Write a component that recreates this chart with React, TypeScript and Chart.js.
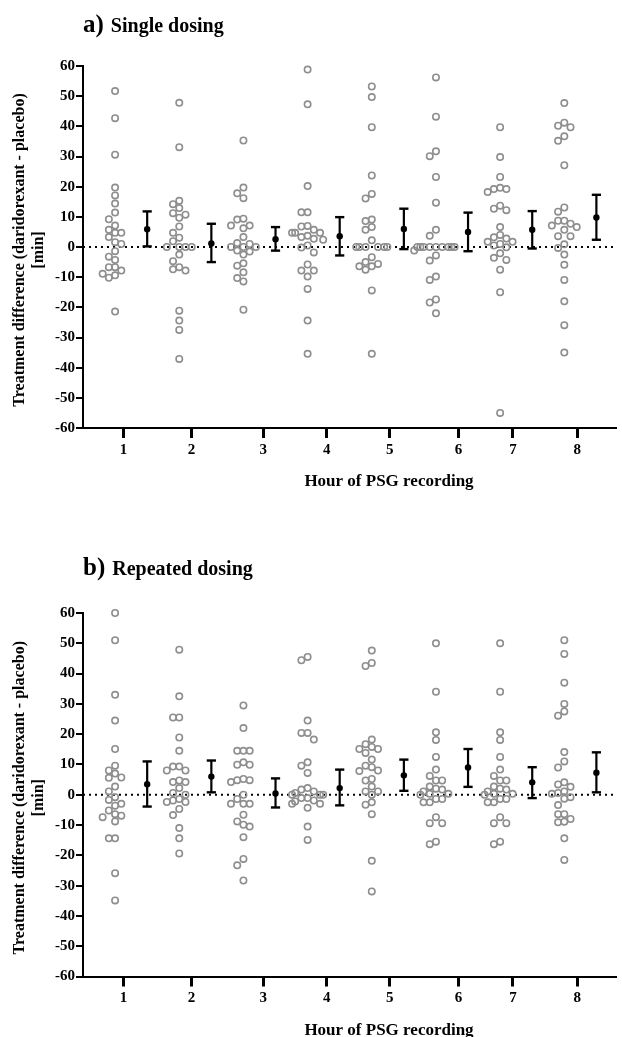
import React, { useEffect, useRef } from 'react';
import { Chart, registerables } from 'chart.js';

Chart.register(...registerables);

// ---------- data ----------
const hours = [1, 2, 3, 4, 5, 6, 7, 8];
const hourLabels = ['1', '2', '3', '4', '5', '6', '7', '8'];
// where the original figure put its hour labels (in hour units)
const xTickPositions = [1.13, 2.19, 3.31, 4.3, 5.28, 6.35, 7.2, 8.2];

const panelLetters = ['a)', 'b)'];
const panelTitles = ['Single dosing', 'Repeated dosing'];
const yTitleLines = ['Treatment difference (daridorexant - placebo)', '[min]'];
const xTitle = 'Hour of PSG recording';

// a) Single dosing: individual treatment differences (min)
const singleH1 = [51.7, 42.7, 30.6, 19.7, 17.1, 14.4, 11.4, 9.2, 7.1, 5.7, 4.7, 4.7, 3.3, 1.6, 1.0, -1.4, -3.2, -4.3, -6.7, -6.7, -7.8, -8.9, -9.4, -10.2, -21.4];
const singleH2 = [47.8, 33.1, 15.3, 14.2, 12.9, 11.2, 10.7, 9.7, 6.8, 4.7, 3.1, 1.9, 0, 0, 0, 0, -2.5, -4.7, -6.7, -7.4, -7.8, -21.1, -24.4, -27.5, -37.1];
const singleH3 = [35.3, 19.7, 17.8, 16.2, 9.4, 9.1, 7.1, 7.1, 6.2, 3.3, 1.3, 1.0, 0, 0, 0, -1.2, -1.5, -2.5, -5.4, -6.2, -8.4, -10.3, -11.4, -20.8];
const singleH4 = [58.8, 47.3, 20.2, 11.5, 11.5, 7.0, 6.8, 5.7, 4.7, 4.7, 4.7, 3.7, 3.3, 2.7, 2.4, 0.5, -0.2, -1.8, -5.8, -7.8, -7.8, -9.8, -13.9, -24.4, -35.4];
const singleH5 = [53.2, 49.7, 39.7, 23.7, 17.6, 16.1, 9.1, 8.6, 6.6, 5.7, 2.2, 0, 0, 0, 0, 0, 0, -3.4, -5.0, -5.6, -6.4, -6.4, -7.5, -14.4, -35.4];
const singleH6 = [56.2, 43.2, 31.7, 30.1, 23.2, 14.7, 5.7, 3.7, 0, 0, 0, 0, 0, 0, 0, 0, 0, -1.2, -2.8, -4.5, -9.8, -10.9, -17.4, -18.4, -22.0];
const singleH7 = [39.7, 29.8, 23.2, 19.6, 19.2, 19.2, 18.2, 13.7, 12.7, 12.2, 6.6, 4.0, 3.2, 2.8, 1.7, 1.7, 1.0, 0.5, -0.1, -2.1, -3.6, -4.3, -7.5, -15.0, -55.0];
const singleH8 = [47.7, 41.2, 40.2, 39.7, 36.7, 35.2, 27.1, 13.1, 11.7, 8.7, 8.7, 7.7, 7.1, 6.6, 5.7, 3.6, 3.6, 0.9, -0.3, -2.5, -5.9, -10.9, -18.0, -25.9, -35.0];
const singleMean = [5.9, 1.2, 2.6, 3.6, 6.0, 5.0, 5.7, 9.8];
const singleLow = [0.2, -5.0, -1.2, -2.8, -0.7, -1.4, -0.5, 2.4];
const singleHigh = [11.8, 7.7, 6.6, 9.9, 12.7, 11.4, 11.9, 17.3];

// b) Repeated dosing
const repeatedH1 = [60.0, 51.0, 33.0, 24.5, 15.1, 9.6, 8.0, 7.0, 5.7, 5.6, 2.7, 1.1, -0.8, -1.7, -3.0, -3.6, -5.2, -6.4, -6.9, -7.4, -8.8, -14.4, -14.4, -25.9, -34.9];
const repeatedH2 = [47.9, 32.5, 25.5, 25.5, 18.9, 14.5, 9.3, 9.3, 8.0, 8.0, 4.7, 4.2, 4.2, 2.2, 0.6, 0, -1.4, -1.9, -2.4, -2.4, -4.7, -6.7, -11.0, -14.4, -19.4];
const repeatedH3 = [29.5, 22.0, 14.5, 14.5, 14.5, 10.7, 9.9, 9.9, 5.2, 4.8, 4.8, 4.2, 0, -1.4, -3.0, -3.0, -3.0, -6.6, -8.8, -9.9, -10.5, -14.0, -21.2, -23.3, -28.3];
const repeatedH4 = [45.5, 44.4, 24.5, 20.4, 20.4, 18.2, 10.7, 9.6, 7.2, 2.2, 1.7, 1.1, 0.6, 0, 0, 0, -1.1, -1.1, -1.9, -2.2, -3.0, -3.0, -4.3, -10.5, -14.9];
const repeatedH5 = [47.6, 43.5, 42.5, 18.2, 16.7, 15.8, 15.1, 15.1, 13.8, 11.6, 9.6, 9.1, 8.0, 7.8, 5.2, 4.7, 2.7, 1.1, 1.1, 0, -2.5, -3.3, -6.4, -21.8, -31.9];
const repeatedH6 = [50.0, 34.0, 20.6, 18.1, 12.5, 8.3, 6.2, 4.7, 4.7, 2.7, 2.0, 1.7, 1.1, 0.3, 0.3, 0, -1.4, -1.4, -2.5, -2.5, -7.4, -9.4, -9.4, -15.5, -16.3];
const repeatedH7 = [50.0, 34.0, 20.6, 18.1, 12.5, 8.3, 6.2, 4.7, 4.7, 2.7, 2.0, 1.7, 1.1, 0.3, 0.3, 0, -1.4, -1.4, -2.5, -2.5, -7.4, -9.4, -9.4, -15.5, -16.3];
const repeatedH8 = [51.0, 46.5, 37.0, 30.0, 27.5, 26.1, 14.1, 11.0, 9.0, 4.1, 3.4, 2.6, 1.1, 0.6, 0.3, -0.8, -1.3, -3.4, -6.4, -6.4, -8.0, -8.9, -9.1, -14.4, -21.5];
const repeatedMean = [3.5, 6.0, 0.4, 2.2, 6.4, 9.0, 4.1, 7.3];
const repeatedLow = [-3.9, 0.8, -4.2, -3.5, 1.3, 2.6, -1.1, 0.8];
const repeatedHigh = [11.0, 11.3, 5.4, 8.3, 11.6, 15.1, 9.1, 14.0];

const singleByHour = [singleH1, singleH2, singleH3, singleH4, singleH5, singleH6, singleH7, singleH8];
const repeatedByHour = [repeatedH1, repeatedH2, repeatedH3, repeatedH4, repeatedH5, repeatedH6, repeatedH7, repeatedH8];

// ---------- layout ----------
const W = 622;
const X_MIN = 0.5;
const X_MAX = 8.79;
const Y_MIN = -60;
const Y_MAX = 60;
const AXIS_LEFT = 83;
const FONT = "'Liberation Serif', 'Times New Roman', serif";

type PanelCfg = {
  top: number;
  height: number;
  plotTop: number;
  plotHeight: number;
  titleBaseline: number;
  letter: string;
  title: string;
  byHour: number[][];
  mean: number[];
  low: number[];
  high: number[];
};

const panels: PanelCfg[] = [
  { top: 0, height: 500, plotTop: 66, plotHeight: 362, titleBaseline: 32, letter: panelLetters[0], title: panelTitles[0], byHour: singleByHour, mean: singleMean, low: singleLow, high: singleHigh },
  { top: 547, height: 490, plotTop: 66, plotHeight: 363.5, titleBaseline: 28, letter: panelLetters[1], title: panelTitles[1], byHour: repeatedByHour, mean: repeatedMean, low: repeatedLow, high: repeatedHigh },
];

// beeswarm: horizontal offsets (in x units) computed from the values only.
// Points sharing a lane keep a vertical gap; outer lanes are compressed.
function swarmOffsets(values: number[], xPxPerUnit: number, yPxPerUnit: number): number[] {
  const LANE = 6.3;
  const V_GAP = 7.2;
  const lanePx = (lane: number) => {
    const n = Math.abs(lane);
    const d = n <= 2 ? n * LANE : 2 * LANE + (n - 2) * LANE * 0.5;
    return Math.sign(lane) * d;
  };
  const order = values.map((_, i) => i).sort((a, b) => values[b] - values[a]);
  const placed: { lane: number; y: number }[] = [];
  const out = new Array(values.length).fill(0);
  for (const i of order) {
    const y = values[i] * yPxPerUnit;
    for (let k = 0; k < 60; k++) {
      const lane = k === 0 ? 0 : k % 2 === 1 ? -(k + 1) / 2 : k / 2;
      const ok = placed.every((p) => p.lane !== lane || Math.abs(p.y - y) >= V_GAP);
      if (ok) {
        placed.push({ lane, y });
        out[i] = lanePx(lane) / xPxPerUnit;
        break;
      }
    }
  }
  return out;
}

const textPlugin = {
  id: 'panelText',
  afterDraw(chart: any, _args: any, opts: any) {
    const { ctx, chartArea } = chart;
    ctx.save();
    ctx.fillStyle = '#000';
    ctx.textAlign = 'left';
    ctx.textBaseline = 'alphabetic';
    ctx.font = `bold 25px ${FONT}`;
    ctx.fillText(opts.letter, AXIS_LEFT, opts.titleBaseline);
    const w = ctx.measureText(opts.letter).width;
    ctx.font = `bold 20px ${FONT}`;
    ctx.fillText(opts.title, AXIS_LEFT + w + 7, opts.titleBaseline);

    ctx.textAlign = 'center';
    ctx.textBaseline = 'middle';
    ctx.font = `bold 17px ${FONT}`;
    ctx.fillText(xTitle, 389, chartArea.bottom + 54);

    ctx.translate(20, (chartArea.top + chartArea.bottom) / 2 + 3);
    ctx.rotate(-Math.PI / 2);
    ctx.font = `bold 16px ${FONT}`;
    ctx.fillText(yTitleLines[0], 0, 0);
    ctx.fillText(yTitleLines[1], 0, 19);
    ctx.restore();
  },
};

function Panel({ cfg }: { cfg: PanelCfg }) {
  const ref = useRef<HTMLCanvasElement>(null);
  useEffect(() => {
    const xPx = (W - AXIS_LEFT) / (X_MAX - X_MIN);
    const yPx = cfg.plotHeight / (Y_MAX - Y_MIN);
    const points: { x: number; y: number }[] = [];
    hours.forEach((h, hi) => {
      const vals = cfg.byHour[hi];
      const offs = swarmOffsets(vals, xPx, yPx);
      vals.forEach((v, i) => points.push({ x: h + offs[i], y: v }));
    });
    const errorSets = hours.map((h, i) => ({
      data: [
        { x: h + 0.5, y: cfg.low[i] },
        { x: h + 0.5, y: cfg.high[i] },
      ],
      showLine: true,
      borderColor: '#000',
      borderWidth: 2.2,
      pointStyle: 'line' as const,
      pointRadius: 4.6,
      pointBorderWidth: 2.4,
      pointBorderColor: '#000',
      pointBackgroundColor: '#000',
      clip: false,
      order: 1,
    }));
    const datasets: any[] = [
      {
        data: hours.map((h, i) => ({ x: h + 0.5, y: cfg.mean[i] })),
        pointRadius: 3.2,
        pointBackgroundColor: '#000',
        pointBorderColor: '#000',
        pointBorderWidth: 0,
        clip: false,
        order: 0,
      },
      ...errorSets,
      {
        data: points,
        pointRadius: 3.2,
        pointBorderWidth: 1.6,
        pointBorderColor: '#8e8e8e',
        pointBackgroundColor: 'rgba(0,0,0,0)',
        clip: false,
        order: 2,
      },
      {
        data: [
          { x: X_MIN, y: 0 },
          { x: X_MAX, y: 0 },
        ],
        showLine: true,
        borderColor: '#000',
        borderWidth: 2,
        borderDash: [2, 4],
        pointRadius: 0,
        order: 5,
      },
    ];
    const chart = new Chart(ref.current!, {
      type: 'scatter',
      data: { datasets },
      plugins: [textPlugin],
      options: {
        animation: false,
        responsive: false,
        events: [],
        layout: { padding: { top: cfg.plotTop, left: 0, right: 0, bottom: 0 } },
        plugins: {
          legend: { display: false },
          tooltip: { enabled: false },
          panelText: { letter: cfg.letter, title: cfg.title, titleBaseline: cfg.titleBaseline },
        } as any,
        scales: {
          x: {
            type: 'linear',
            min: X_MIN,
            max: X_MAX,
            afterBuildTicks: (s: any) => {
              s.ticks = xTickPositions.map((v) => ({ value: v }));
            },
            afterFit: (s: any) => {
              s.height = cfg.height - cfg.plotTop - cfg.plotHeight;
            },
            ticks: {
              autoSkip: false,
              maxRotation: 0,
              color: '#000',
              padding: 3,
              font: { family: FONT, weight: 'bold', size: 15 },
              callback: (_v: any, i: number) => hourLabels[i],
            },
            grid: { drawOnChartArea: false, drawTicks: true, tickLength: 10, lineWidth: 3, color: '#000' },
            border: { display: true, color: '#000', width: 2 },
          },
          y: {
            type: 'linear',
            min: Y_MIN,
            max: Y_MAX,
            afterFit: (s: any) => {
              s.width = AXIS_LEFT;
            },
            ticks: {
              stepSize: 10,
              color: '#000',
              padding: 1,
              font: { family: FONT, weight: 'bold', size: 15 },
            },
            grid: { drawOnChartArea: false, drawTicks: true, tickLength: 7, lineWidth: 2, color: '#000' },
            border: { display: true, color: '#000', width: 2 },
          },
        },
      } as any,
    });
    return () => chart.destroy();
  }, [cfg]);
  return (
    <canvas
      ref={ref}
      width={W}
      height={cfg.height}
      style={{ position: 'absolute', left: 0, top: cfg.top, width: W, height: cfg.height }}
    />
  );
}

export default function App() {
  return (
    <div style={{ position: 'absolute', left: 0, top: 0, width: W, height: 1037, background: '#fff', overflow: 'hidden' }}>
      {panels.map((p, i) => (
        <Panel key={i} cfg={p} />
      ))}
    </div>
  );
}
